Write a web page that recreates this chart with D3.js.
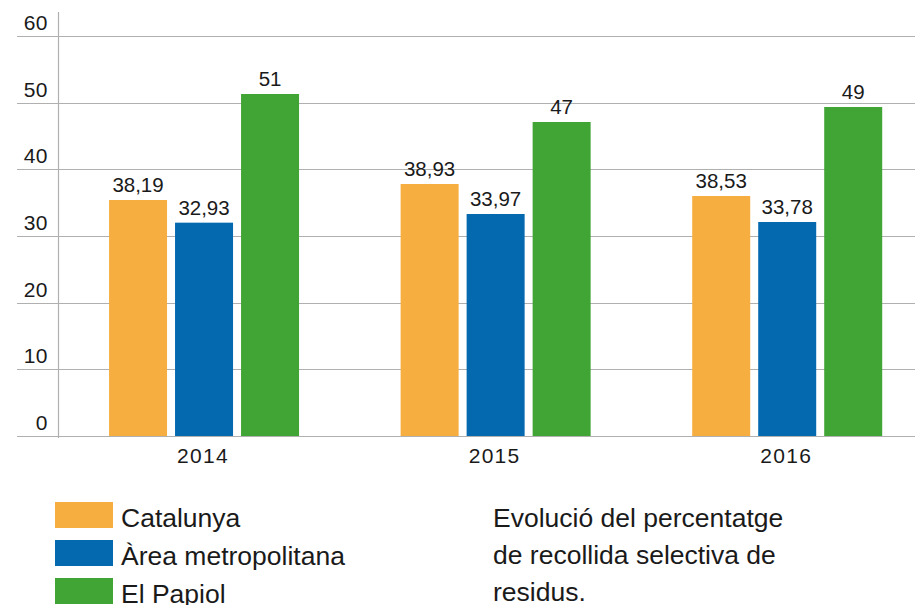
<!DOCTYPE html>
<html><head><meta charset="utf-8">
<script src="https://cdn.jsdelivr.net/npm/d3@7"></script>
<style>
html,body{margin:0;padding:0;background:#fff;}
svg{display:block;font-family:"Liberation Sans",Arial,Helvetica,sans-serif;}
</style></head>
<body>
<svg id="c" width="915" height="605"></svg>
<script>
const years = ["2014", "2015", "2016"];
const seriesNames = ["Catalunya", "Àrea metropolitana", "El Papiol"];
const seriesColors = ["#F6AE40", "#0569B0", "#41A535"];
// bar heights as drawn in the picture
const catalunya = [35.4, 37.8, 36.0];
const area = [32.0, 33.3, 32.1];
const papiol = [51.3, 47.1, 49.35];
// value labels as printed
const catalunyaLabels = ["38,19", "38,93", "38,53"];
const areaLabels = ["32,93", "33,97", "33,78"];
const papiolLabels = ["51", "47", "49"];
const yTicks = [0, 10, 20, 30, 40, 50, 60];
const descLines = ["Evolució del percentatge", "de recollida selectiva de", "residus."];

const values = [catalunya, area, papiol];
const labels = [catalunyaLabels, areaLabels, papiolLabels];

const svg = d3.select("#c");
const y = d3.scaleLinear().domain([0, 60]).range([436, 36]);
const x = d3.scaleBand().domain(years).range([58.25, 933]).paddingInner(0).paddingOuter(0);
const xs = d3.scaleBand().domain(seriesNames).range([-95, 95]).paddingInner(8/66).paddingOuter(0);

// gridlines
const yAxis = d3.axisLeft(y).tickValues(yTicks).tickSize(0).tickFormat(d3.format("d"));
const grid = svg.append("g");
grid.selectAll("line").data(yTicks).join("line")
  .attr("x1", 17).attr("x2", 915)
  .attr("y1", d => Math.round(y(d)) + 0.5).attr("y2", d => Math.round(y(d)) + 0.5)
  .attr("stroke", "#b0b0b0").attr("stroke-width", 1.2);
grid.selectAll("text").data(yTicks).join("text")
  .attr("x", 48).attr("y", d => y(d) - 6)
  .attr("text-anchor", "end").attr("font-size", 21).attr("letter-spacing", 0.5).attr("fill", "#1a1a1a")
  .text(d => yAxis.tickFormat()(d));

// vertical axis line
svg.append("line").attr("x1", 58.5).attr("x2", 58.5).attr("y1", 12).attr("y2", 438)
  .attr("stroke", "#b0b0b0").attr("stroke-width", 1.2);

// bars
const rows = [];
years.forEach((yr, i) => seriesNames.forEach((s, j) => rows.push({yr, s, j, v: values[j][i], lab: labels[j][i]})));
const gb = svg.append("g");
gb.selectAll("rect").data(rows).join("rect")
  .attr("x", d => x(d.yr) + x.bandwidth()/2 + xs(d.s))
  .attr("width", xs.bandwidth())
  .attr("y", d => y(d.v))
  .attr("height", d => y(0) - y(d.v))
  .attr("fill", d => seriesColors[d.j]);
gb.selectAll("text").data(rows).join("text")
  .attr("x", d => x(d.yr) + x.bandwidth()/2 + xs(d.s) + xs.bandwidth()/2)
  .attr("y", d => y(d.v) - 8)
  .attr("text-anchor", "middle").attr("font-size", 20.5).attr("fill", "#1a1a1a")
  .text(d => d.lab);

// year labels
svg.append("g").selectAll("text").data(years).join("text")
  .attr("x", d => x(d) + x.bandwidth()/2 - 1)
  .attr("y", 463.3)
  .attr("text-anchor", "middle").attr("font-size", 21).attr("letter-spacing", 1.3).attr("fill", "#1a1a1a")
  .text(d => d);

// legend
const lg = svg.append("g");
seriesNames.forEach((s, j) => {
  const top = 502 + j * 38;
  lg.append("rect").attr("x", 55).attr("y", top).attr("width", 58).attr("height", 26).attr("fill", seriesColors[j]);
  lg.append("text").attr("x", 121).attr("y", top + 24.7).attr("font-size", 26.5).attr("fill", "#1a1a1a").text(s);
});

// description
svg.append("g").selectAll("text").data(descLines).join("text")
  .attr("x", 493).attr("y", (d, i) => 526.7 + i * 37.2)
  .attr("font-size", 26.5).attr("fill", "#1a1a1a")
  .text(d => d);
</script>
</body></html>
